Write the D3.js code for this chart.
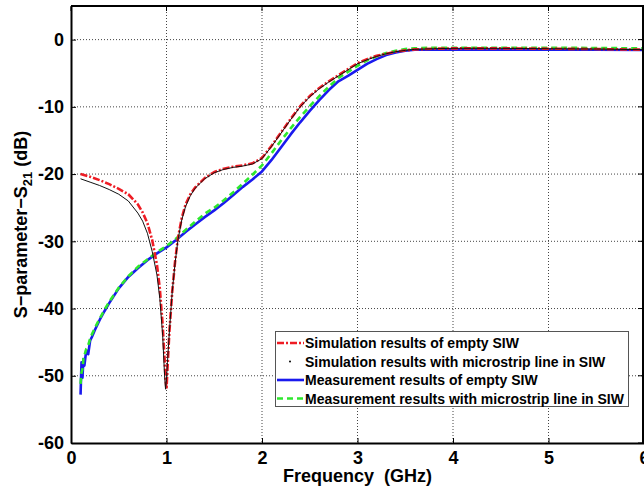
<!DOCTYPE html>
<html>
<head>
<meta charset="utf-8">
<script src="https://cdn.jsdelivr.net/npm/d3@7"></script>
<style>
  body { margin: 0; background: #fff; }
  svg { display: block; font-family: "Liberation Sans", Arial, Helvetica, sans-serif; }
</style>
</head>
<body>
<div class="chart"></div>
<script>
// Data ------------------------------------------------------------------------------------------------------
const simFreq = [0.1, 0.2, 0.3, 0.4, 0.5, 0.6, 0.7, 0.75, 0.8, 0.85, 0.9, 0.93, 0.96, 0.98, 0.99, 1.0, 1.01, 1.03, 1.06, 1.09, 1.12, 1.16, 1.2, 1.25, 1.3, 1.4, 1.5, 1.6, 1.7, 1.8, 1.9, 2.0, 2.1, 2.2, 2.3, 2.4, 2.5, 2.6, 2.7, 2.8, 2.9, 3.0, 3.1, 3.2, 3.3, 3.4, 3.5, 3.6, 3.8, 4.0, 4.5, 5.0, 5.5, 6.0];
const simEmpty = [-20, -20.4, -20.9, -21.5, -22.2, -23.0, -24.5, -25.7, -27.3, -29.8, -33.5, -37, -42.5, -47.5, -50.5, -52, -49, -43.5, -37.5, -33, -29.5, -26.5, -24.5, -23.0, -22.0, -20.6, -19.7, -19.2, -18.9, -18.7, -18.4, -17.6, -15.8, -13.8, -11.8, -9.9, -8.4, -7.2, -6.2, -5.3, -4.4, -3.5, -2.9, -2.4, -2.1, -1.8, -1.6, -1.45, -1.35, -1.3, -1.3, -1.35, -1.4, -1.5];
const simMicrostrip = [-20.7, -21.2, -21.7, -22.3, -23.0, -24.0, -25.8, -27.0, -28.8, -31.5, -35, -38.5, -44, -50, -52, -50.5, -48, -43.5, -37.5, -33.2, -29.8, -26.8, -24.8, -23.2, -22.1, -20.7, -19.8, -19.3, -19.0, -18.8, -18.5, -17.7, -15.9, -13.9, -11.9, -10.0, -8.5, -7.3, -6.3, -5.4, -4.5, -3.6, -3.0, -2.5, -2.1, -1.8, -1.6, -1.45, -1.35, -1.3, -1.3, -1.35, -1.4, -1.5];

const measFreq = [0.1, 0.11, 0.12, 0.13, 0.14, 0.16, 0.18, 0.2, 0.22, 0.25, 0.3, 0.35, 0.4, 0.5, 0.6, 0.7, 0.8, 0.9, 1.0, 1.1, 1.2, 1.3, 1.4, 1.5, 1.6, 1.7, 1.8, 1.9, 2.0, 2.1, 2.2, 2.3, 2.4, 2.5, 2.6, 2.7, 2.8, 2.9, 3.0, 3.1, 3.2, 3.3, 3.4, 3.5, 3.6, 3.8, 4.0, 4.5, 5.0, 5.5, 6.0];
const measEmpty = [-52.8, -48, -50.3, -47.5, -48.5, -46.2, -46.8, -44.8, -44.2, -43.2, -41.7, -40.4, -39.2, -37, -35.3, -34, -32.8, -31.8, -30.9, -29.8, -28.6, -27.5, -26.4, -25.4, -24.3, -23.1, -21.9, -20.8, -19.6, -17.9, -16, -14.1, -12.3, -10.6, -9, -7.5, -6.2, -5.4, -4.5, -3.6, -2.9, -2.3, -1.9, -1.65, -1.5, -1.5, -1.5, -1.5, -1.5, -1.5, -1.55];
const measMicrostrip = [-51.2, -49.5, -49, -47.5, -47, -46, -45.5, -44.5, -43.8, -42.9, -41.5, -40.2, -39.0, -36.9, -35.2, -33.8, -32.7, -31.6, -30.7, -29.6, -28.3, -27.1, -25.9, -25.0, -23.9, -22.7, -21.4, -20.1, -18.7, -16.9, -15.0, -13.2, -11.5, -9.9, -8.4, -7.0, -5.7, -4.8, -3.9, -3.1, -2.5, -2.0, -1.65, -1.4, -1.3, -1.2, -1.2, -1.2, -1.2, -1.25, -1.3];

const xTicks = [0, 1, 2, 3, 4, 5, 6];
const yTicks = [-60, -50, -40, -30, -20, -10, 0];
const legendLabels = [
  "Simulation results of empty SIW",
  "Simulation results with microstrip line in SIW",
  "Measurement results of empty SIW",
  "Measurement results with microstrip line in SIW"
];

// Dimensions ------------------------------------------------------------------------------------------------
const width = 644, height = 489;
const plot = {left: 71, top: 6, right: 644, bottom: 443};

const svg = d3.select(".chart").append("svg")
.attr("width", width)
.attr("height", height);

const x = d3.scaleLinear().domain([0, 6]).range([plot.left, plot.right]);
const y = d3.scaleLinear().domain([-60, 5]).range([plot.bottom, plot.top]);

// Grid ------------------------------------------------------------------------------------------------------
const grid = svg.append("g").attr("class", "grid");
grid.selectAll(".vgrid")
.data(xTicks.filter(d => d > 0 && d < 6))
.enter().append("line")
.attr("x1", d => x(d)).attr("x2", d => x(d))
.attr("y1", plot.top).attr("y2", plot.bottom)
.attr("stroke", "#444").attr("stroke-width", 1)
.attr("stroke-dasharray", "1,2");

grid.selectAll(".hgrid")
.data(yTicks.filter(d => d > -60))
.enter().append("line")
.attr("x1", plot.left).attr("x2", plot.right)
.attr("y1", d => y(d)).attr("y2", d => y(d))
.attr("stroke", "#444").attr("stroke-width", 1)
.attr("stroke-dasharray", "1,2");

// Curves ----------------------------------------------------------------------------------------------------
const line = d3.line().x(d => x(d[0])).y(d => y(d[1]));
const zip = (fs, vs) => fs.map((f, i) => [f, vs[i]]);

const series = [
  {data: zip(measFreq, measEmpty), color: "#1a1aee", width: 2.6, dash: null},
  {data: zip(measFreq, measMicrostrip), color: "#2ee82e", width: 2.6, dash: "6,4"},
  {data: zip(simFreq, simEmpty), color: "#ee1c24", width: 2.6, dash: "7,2,2,2"},
  {data: zip(simFreq, simMicrostrip), color: "#111", width: 1, dash: null}
];

const curves = svg.append("g").attr("clip-path", "url(#clip)");
svg.append("clipPath").attr("id", "clip")
.append("rect")
.attr("x", plot.left).attr("y", plot.top)
.attr("width", plot.right - plot.left).attr("height", plot.bottom - plot.top);

curves.selectAll("path")
.data(series)
.enter().append("path")
.attr("d", d => line(d.data))
.attr("fill", "none")
.attr("stroke", d => d.color)
.attr("stroke-width", d => d.width)
.attr("stroke-dasharray", d => d.dash)
.attr("stroke-linejoin", "round");

// Axes ------------------------------------------------------------------------------------------------------
svg.append("g")
.attr("transform", `translate(0,${plot.bottom})`)
.call(d3.axisBottom(x).tickValues(xTicks).tickFormat(d => d).tickSizeInner(-5).tickSizeOuter(0).tickPadding(8))
.call(g => g.select(".domain").attr("stroke-width", 2))
.call(g => g.selectAll("text").attr("font-size", 18).attr("font-weight", "bold").attr("fill", "#000"));

svg.append("g")
.attr("transform", `translate(${plot.left},0)`)
.call(d3.axisLeft(y).tickValues(yTicks).tickFormat(d => String(d)).tickSizeInner(-5).tickSizeOuter(0).tickPadding(7))
.call(g => g.select(".domain").attr("stroke-width", 2))
.call(g => g.selectAll("text").attr("font-size", 18).attr("font-weight", "bold").attr("fill", "#000"));

// Box top / right
svg.append("line")
.attr("x1", plot.left).attr("x2", plot.right)
.attr("y1", plot.top).attr("y2", plot.top)
.attr("stroke", "#000").attr("stroke-width", 2);
svg.append("line")
.attr("x1", plot.right - 1).attr("x2", plot.right - 1)
.attr("y1", plot.top).attr("y2", plot.bottom)
.attr("stroke", "#000").attr("stroke-width", 2);

// Ticks on top and right
svg.append("g").selectAll("line")
.data(xTicks)
.enter().append("line")
.attr("x1", d => x(d)).attr("x2", d => x(d))
.attr("y1", plot.top).attr("y2", plot.top + 5)
.attr("stroke", "#000");
svg.append("g").selectAll("line")
.data(yTicks)
.enter().append("line")
.attr("x1", plot.right - 6).attr("x2", plot.right)
.attr("y1", d => y(d)).attr("y2", d => y(d))
.attr("stroke", "#000");

// Axis labels -----------------------------------------------------------------------------------------------
svg.append("text")
.attr("x", (plot.left + plot.right) / 2)
.attr("y", 482)
.attr("text-anchor", "middle")
.attr("font-size", 18).attr("font-weight", "bold")
.attr("xml:space", "preserve")
.text("Frequency  (GHz)");

const yLabel = svg.append("text")
.attr("transform", `translate(27,${(plot.top + plot.bottom) / 2}) rotate(-90)`)
.attr("text-anchor", "middle")
.attr("font-size", 18).attr("font-weight", "bold");
yLabel.append("tspan").text("S\u2212parameter\u2212S");
yLabel.append("tspan").attr("font-size", 13).attr("dy", 5).text("21");
yLabel.append("tspan").attr("dy", -5).text(" (dB)");

// Legend ----------------------------------------------------------------------------------------------------
const legend = svg.append("g");
legend.append("rect")
.attr("x", 275.5).attr("y", 331.5)
.attr("width", 353).attr("height", 75)
.attr("fill", "#fff").attr("stroke", "#555").attr("stroke-width", 1);

const legendOrder = [2, 3, 0, 1];
const legendItems = legend.selectAll(".legend-item")
.data(legendLabels)
.enter().append("g")
.attr("class", "legend-item")
.attr("transform", (d, i) => `translate(0,${343 + i * 18.5})`);

legendItems.each(function(d, i) {
  const s = series[legendOrder[i]];
  const g = d3.select(this);
  if (i === 1) {
    g.append("circle").attr("cx", 290).attr("cy", 0).attr("r", 1).attr("fill", "#000");
  } else {
    g.append("line")
    .attr("x1", 277).attr("x2", 304)
    .attr("y1", 0).attr("y2", 0)
    .attr("stroke", s.color)
    .attr("stroke-width", s.width)
    .attr("stroke-dasharray", s.dash);
  }
  g.append("text")
  .attr("x", 305).attr("y", 5)
  .attr("font-size", 14).attr("font-weight", "bold")
  .text(d);
});
</script>
</body>
</html>
